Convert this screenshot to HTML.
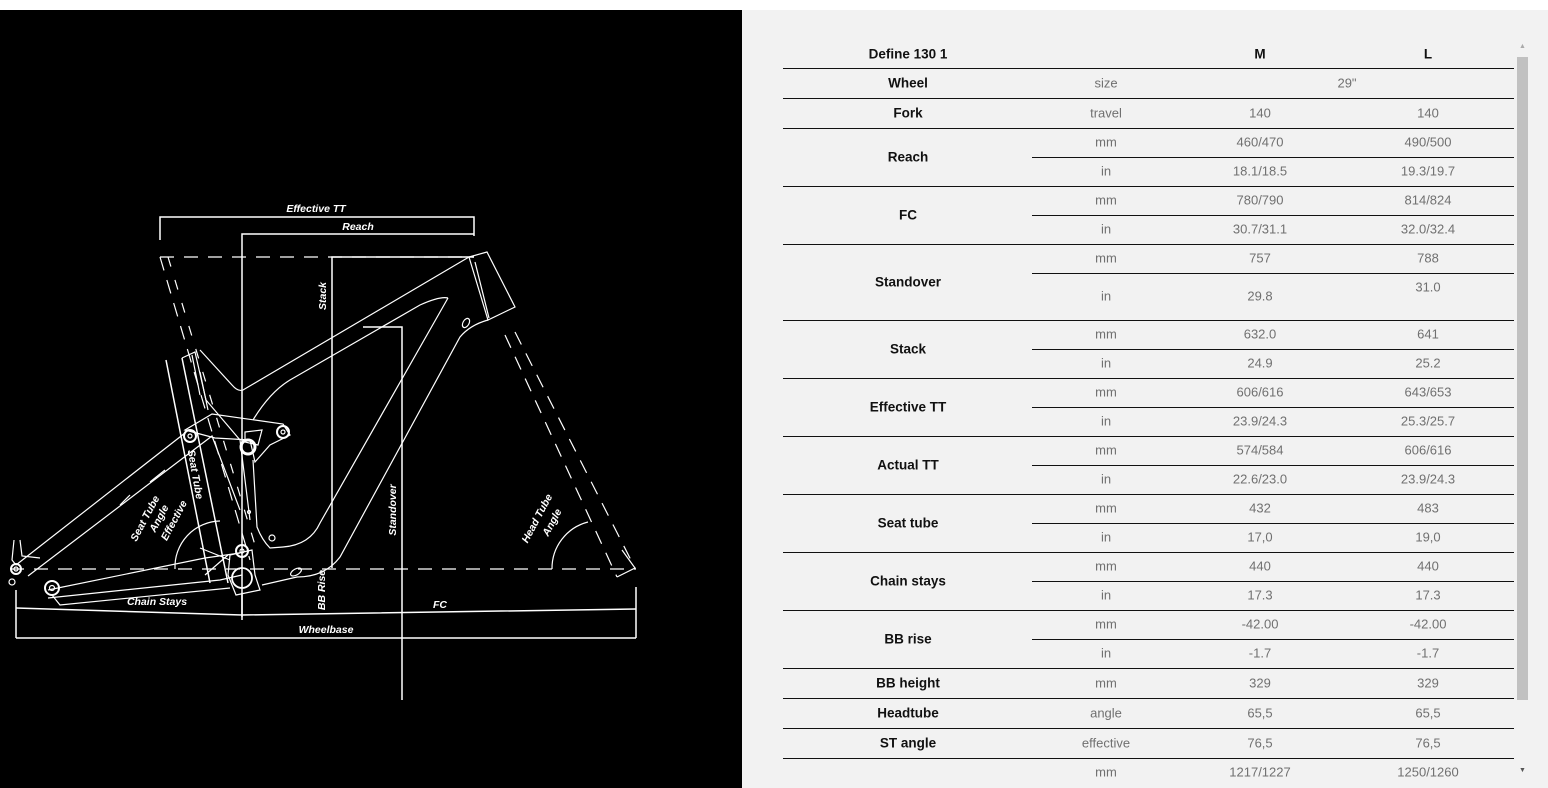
<!DOCTYPE html>
<html><head><meta charset="utf-8"><style>
*{margin:0;padding:0;box-sizing:border-box}
body{width:1548px;height:788px;background:#fff;position:relative;overflow:hidden;font-family:"Liberation Sans",sans-serif}
#L{position:absolute;left:0;top:10px;width:742px;height:778px;background:#000}
#R{position:absolute;left:742px;top:10px;width:806px;height:778px;background:#f2f2f2}
.h{position:absolute;height:1px;background:#111}
.t{position:absolute;transform:translate(-50%,-50%);font-size:13px;color:#707070;white-space:nowrap}
.b{color:#111;font-weight:bold;font-size:13.5px}
svg text{font-family:"Liberation Sans",sans-serif;font-weight:bold;font-style:italic;fill:#fff;font-size:10.5px}
</style></head><body>
<div id="L"></div><div id="R"></div>
<svg style="position:absolute;left:0;top:0" width="742" height="788" fill="none" stroke="#fff" stroke-width="1.2">
<!-- dimension lines -->
<path d="M160 240V217H474V236" stroke-width="1.5"/>
<path d="M242 620V234H474" stroke-width="1.5"/>
<path d="M160 257H474" stroke-dasharray="14 10"/>
<path d="M332 568V257H474" stroke-width="1.5"/>
<path d="M363 327H402V700" stroke-width="1.5"/>
<path d="M10 569H636" stroke-dasharray="14 10"/>
<path d="M16 590V638M636 587V638M16 638H636" stroke-width="1.5"/>
<path d="M16 608L242 615L636 609M242 593V617" stroke-width="1.5"/>
<!-- seatpost / fork dashed -->
<path d="M160 257L250 560" stroke-dasharray="14 10"/>
<path d="M168 257L255 545" stroke-dasharray="10 14"/>
<path d="M505 335L617 577" stroke-dasharray="14 10"/>
<path d="M515 332L635 568" stroke-dasharray="14 10"/>
<path d="M617 577L635 568L622 550"/>
<!-- arcs -->
<path d="M552 569A48 48 0 0 1 588 522"/>
<path d="M175 569A46 46 0 0 1 220 521"/>
<!-- head tube -->
<path d="M469 257L487 252L515 307L488 320Z"/>
<path d="M475 262L482 290L489 318"/>
<!-- front triangle -->
<path d="M469 257L243 390Q238 392 232 385L200 350"/>
<path d="M448 298Q440 296 420 305L290 380Q270 392 253 420"/>
<path d="M448 298L320 523Q310 545 283 547L270 548Q262 540 257 527L253 460"/>
<path d="M488 320Q470 325 460 337L340 557Q325 577 297 577L262 585"/>
<ellipse cx="466" cy="323" rx="3" ry="5" transform="rotate(30 466 323)"/>
<ellipse cx="296" cy="572" rx="3" ry="6" transform="rotate(60 296 572)"/>
<circle cx="272" cy="538" r="3"/>
<circle cx="249" cy="512" r="1.5"/>
<!-- seat tube -->
<path d="M166 360L210 583M182 358L228 583" stroke-width="1.5"/>
<path d="M182 358L195 352L206 400L240 440L250 520"/>
<path d="M192 355L200 395M200 372L208 410"/>
<!-- rocker -->
<path d="M185 430L212 414L283 424L290 435L270 445L255 462L250 440L215 438Z"/>
<path d="M245 432L262 430L258 445L245 442Z"/>
<circle cx="190" cy="436" r="6" stroke-width="2"/><circle cx="190" cy="436" r="2"/>
<circle cx="283" cy="432" r="6" stroke-width="2"/><circle cx="283" cy="432" r="2"/>
<circle cx="248" cy="447" r="7" stroke-width="3"/>
<!-- rear triangle -->
<path d="M16 565L185 433M28 576L212 436L240 510"/>
<path d="M48 590L205 558L240 553"/>
<path d="M48 598L220 580L242 575"/>
<path d="M14 540L12 560L16 565M20 540L22 556L40 558"/>
<path d="M52 595L60 605L230 588"/>
<path d="M150 482L165 470M120 505L130 495"/>
<circle cx="16" cy="569" r="5" stroke-width="2"/><circle cx="16" cy="569" r="2"/>
<circle cx="12" cy="582" r="3"/>
<circle cx="52" cy="588" r="7" stroke-width="2"/><circle cx="52" cy="588" r="2.5"/>
<!-- BB -->
<path d="M230 555L252 550L255 575L260 590L236 595L228 575Z"/>
<circle cx="242" cy="551" r="6" stroke-width="2"/><circle cx="242" cy="551" r="2"/>
<circle cx="242" cy="578" r="10" stroke-width="1.8"/>
<path d="M200 548L230 560M205 575L228 555"/>
<!-- labels -->
<g stroke="none">
<text x="316" y="212" text-anchor="middle">Effective TT</text>
<text x="358" y="230" text-anchor="middle">Reach</text>
<text x="157" y="605" text-anchor="middle">Chain Stays</text>
<text x="326" y="633" text-anchor="middle">Wheelbase</text>
<text x="440" y="608" text-anchor="middle">FC</text>
<text transform="translate(326 296) rotate(-90)" text-anchor="middle">Stack</text>
<text transform="translate(396 510) rotate(-90)" text-anchor="middle">Standover</text>
<text transform="translate(325 590) rotate(-90)" text-anchor="middle">BB Rise</text>
<text transform="translate(192 475) rotate(80)" text-anchor="middle">Seat Tube</text>
<text transform="translate(148 520) rotate(-62)" text-anchor="middle">Seat Tube</text>
<text transform="translate(162 520) rotate(-62)" text-anchor="middle">Angle</text>
<text transform="translate(177 522) rotate(-62)" text-anchor="middle">Effective</text>
<text transform="translate(540 520) rotate(-62)" text-anchor="middle">Head Tube</text>
<text transform="translate(555 524) rotate(-62)" text-anchor="middle">Angle</text>
</g>
</svg>

<!-- table lines -->
<div class="h" style="left:783px;width:731px;top:68px"></div>
<div class="h" style="left:783px;width:731px;top:98px"></div>
<div class="h" style="left:783px;width:731px;top:128px"></div>
<div class="h" style="left:1032px;width:482px;top:157px"></div>
<div class="h" style="left:783px;width:731px;top:186px"></div>
<div class="h" style="left:1032px;width:482px;top:215px"></div>
<div class="h" style="left:783px;width:731px;top:244px"></div>
<div class="h" style="left:1032px;width:482px;top:273px"></div>
<div class="h" style="left:783px;width:731px;top:320px"></div>
<div class="h" style="left:1032px;width:482px;top:349px"></div>
<div class="h" style="left:783px;width:731px;top:378px"></div>
<div class="h" style="left:1032px;width:482px;top:407px"></div>
<div class="h" style="left:783px;width:731px;top:436px"></div>
<div class="h" style="left:1032px;width:482px;top:465px"></div>
<div class="h" style="left:783px;width:731px;top:494px"></div>
<div class="h" style="left:1032px;width:482px;top:523px"></div>
<div class="h" style="left:783px;width:731px;top:552px"></div>
<div class="h" style="left:1032px;width:482px;top:581px"></div>
<div class="h" style="left:783px;width:731px;top:610px"></div>
<div class="h" style="left:1032px;width:482px;top:639px"></div>
<div class="h" style="left:783px;width:731px;top:668px"></div>
<div class="h" style="left:783px;width:731px;top:698px"></div>
<div class="h" style="left:783px;width:731px;top:728px"></div>
<div class="h" style="left:783px;width:731px;top:758px"></div>

<!-- scrollbar -->
<div style="position:absolute;left:1517px;top:57px;width:11px;height:643px;background:#c1c1c1"></div>
<div style="position:absolute;left:1519px;top:43px;font-size:7px;color:#aaa">▲</div>
<div style="position:absolute;left:1519px;top:767px;font-size:7px;color:#555">▼</div>

<!-- text -->
<div class="t b" style="left:908px;top:54px">Define 130 1</div>
<div class="t b" style="left:1260px;top:54px">M</div>
<div class="t b" style="left:1428px;top:54px">L</div>

<div class="t b" style="left:908px;top:83px">Wheel</div><div class="t" style="left:1106px;top:83px">size</div><div class="t" style="left:1347px;top:83px">29"</div>
<div class="t b" style="left:908px;top:113px">Fork</div><div class="t" style="left:1106px;top:113px">travel</div><div class="t" style="left:1260px;top:113px">140</div><div class="t" style="left:1428px;top:113px">140</div>

<div class="t b" style="left:908px;top:157px">Reach</div>
<div class="t" style="left:1106px;top:142px">mm</div><div class="t" style="left:1260px;top:142px">460/470</div><div class="t" style="left:1428px;top:142px">490/500</div>
<div class="t" style="left:1106px;top:171px">in</div><div class="t" style="left:1260px;top:171px">18.1/18.5</div><div class="t" style="left:1428px;top:171px">19.3/19.7</div>

<div class="t b" style="left:908px;top:215px">FC</div>
<div class="t" style="left:1106px;top:200px">mm</div><div class="t" style="left:1260px;top:200px">780/790</div><div class="t" style="left:1428px;top:200px">814/824</div>
<div class="t" style="left:1106px;top:229px">in</div><div class="t" style="left:1260px;top:229px">30.7/31.1</div><div class="t" style="left:1428px;top:229px">32.0/32.4</div>

<div class="t b" style="left:908px;top:282px">Standover</div>
<div class="t" style="left:1106px;top:258px">mm</div><div class="t" style="left:1260px;top:258px">757</div><div class="t" style="left:1428px;top:258px">788</div>
<div class="t" style="left:1106px;top:296px">in</div><div class="t" style="left:1260px;top:296px">29.8</div><div class="t" style="left:1428px;top:287px">31.0</div>

<div class="t b" style="left:908px;top:349px">Stack</div>
<div class="t" style="left:1106px;top:334px">mm</div><div class="t" style="left:1260px;top:334px">632.0</div><div class="t" style="left:1428px;top:334px">641</div>
<div class="t" style="left:1106px;top:363px">in</div><div class="t" style="left:1260px;top:363px">24.9</div><div class="t" style="left:1428px;top:363px">25.2</div>

<div class="t b" style="left:908px;top:407px">Effective TT</div>
<div class="t" style="left:1106px;top:392px">mm</div><div class="t" style="left:1260px;top:392px">606/616</div><div class="t" style="left:1428px;top:392px">643/653</div>
<div class="t" style="left:1106px;top:421px">in</div><div class="t" style="left:1260px;top:421px">23.9/24.3</div><div class="t" style="left:1428px;top:421px">25.3/25.7</div>

<div class="t b" style="left:908px;top:465px">Actual TT</div>
<div class="t" style="left:1106px;top:450px">mm</div><div class="t" style="left:1260px;top:450px">574/584</div><div class="t" style="left:1428px;top:450px">606/616</div>
<div class="t" style="left:1106px;top:479px">in</div><div class="t" style="left:1260px;top:479px">22.6/23.0</div><div class="t" style="left:1428px;top:479px">23.9/24.3</div>

<div class="t b" style="left:908px;top:523px">Seat tube</div>
<div class="t" style="left:1106px;top:508px">mm</div><div class="t" style="left:1260px;top:508px">432</div><div class="t" style="left:1428px;top:508px">483</div>
<div class="t" style="left:1106px;top:537px">in</div><div class="t" style="left:1260px;top:537px">17,0</div><div class="t" style="left:1428px;top:537px">19,0</div>

<div class="t b" style="left:908px;top:581px">Chain stays</div>
<div class="t" style="left:1106px;top:566px">mm</div><div class="t" style="left:1260px;top:566px">440</div><div class="t" style="left:1428px;top:566px">440</div>
<div class="t" style="left:1106px;top:595px">in</div><div class="t" style="left:1260px;top:595px">17.3</div><div class="t" style="left:1428px;top:595px">17.3</div>

<div class="t b" style="left:908px;top:639px">BB rise</div>
<div class="t" style="left:1106px;top:624px">mm</div><div class="t" style="left:1260px;top:624px">-42.00</div><div class="t" style="left:1428px;top:624px">-42.00</div>
<div class="t" style="left:1106px;top:653px">in</div><div class="t" style="left:1260px;top:653px">-1.7</div><div class="t" style="left:1428px;top:653px">-1.7</div>

<div class="t b" style="left:908px;top:683px">BB height</div><div class="t" style="left:1106px;top:683px">mm</div><div class="t" style="left:1260px;top:683px">329</div><div class="t" style="left:1428px;top:683px">329</div>
<div class="t b" style="left:908px;top:713px">Headtube</div><div class="t" style="left:1106px;top:713px">angle</div><div class="t" style="left:1260px;top:713px">65,5</div><div class="t" style="left:1428px;top:713px">65,5</div>
<div class="t b" style="left:908px;top:743px">ST angle</div><div class="t" style="left:1106px;top:743px">effective</div><div class="t" style="left:1260px;top:743px">76,5</div><div class="t" style="left:1428px;top:743px">76,5</div>
<div class="t" style="left:1106px;top:772px">mm</div><div class="t" style="left:1260px;top:772px">1217/1227</div><div class="t" style="left:1428px;top:772px">1250/1260</div>
</body></html>
